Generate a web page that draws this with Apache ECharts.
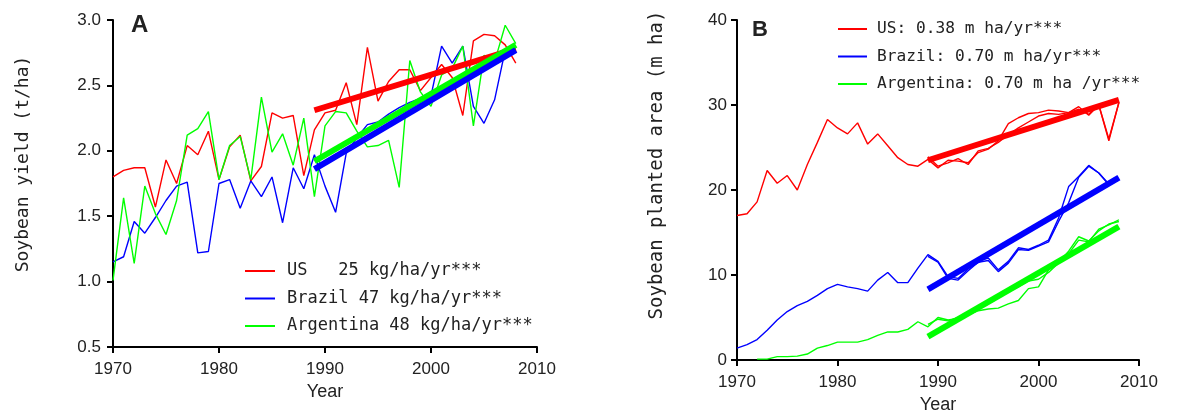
<!DOCTYPE html>
<html>
<head>
<meta charset="utf-8">
<script src="https://cdn.jsdelivr.net/npm/echarts@6/dist/echarts.min.js"></script>
<style>
  html, body { margin: 0; padding: 0; background: #fff; }
  #chart { width: 1189px; height: 414px; }
</style>
</head>
<body>
<div id="chart"></div>
<script>
// years 1970..2008
const years = []
for (let y = 1970; y <= 2008; y++) years.push(y)

// panel A: yield (t/ha)
const usYield = [1.80, 1.85, 1.87, 1.87, 1.57, 1.93, 1.75, 2.04, 1.97, 2.15,
  1.78, 2.03, 2.12, 1.77, 1.88, 2.29, 2.25, 2.27, 1.81, 2.16,
  2.29, 2.31, 2.52, 2.20, 2.79, 2.38, 2.53, 2.62, 2.62, 2.46,
  2.56, 2.66, 2.56, 2.27, 2.84, 2.89, 2.88, 2.81, 2.67]
const brazilYield = [1.15, 1.19, 1.46, 1.37, 1.49, 1.62, 1.73, 1.76, 1.22, 1.23,
  1.75, 1.78, 1.56, 1.77, 1.65, 1.80, 1.45, 1.87, 1.71, 1.97,
  1.73, 1.53, 1.98, 2.10, 2.20, 2.22, 2.28, 2.33, 2.37, 2.40,
  2.42, 2.80, 2.67, 2.80, 2.34, 2.21, 2.39, 2.77, 2.78]
const argYield = [1.01, 1.64, 1.14, 1.73, 1.52, 1.36, 1.62, 2.12, 2.17, 2.30,
  1.78, 2.04, 2.11, 1.78, 2.41, 1.99, 2.13, 1.89, 2.25, 1.65,
  2.19, 2.30, 2.29, 2.15, 2.03, 2.04, 2.08, 1.72, 2.69, 2.45,
  2.34, 2.58, 2.63, 2.80, 2.19, 2.73, 2.68, 2.96, 2.82]

// panel A: fitted trends 1989-2008 (endpoints)
const trendYears = [1989, 2008]
const usYieldTrend = [2.31, 2.78]
const brazilYieldTrend = [1.86, 2.77]
const argYieldTrend = [1.92, 2.81]

// panel B: planted area (m ha)
const usArea = [17.0, 17.2, 18.6, 22.3, 20.8, 21.7, 20.0, 23.0, 25.6, 28.3,
  27.3, 26.6, 27.9, 25.4, 26.6, 25.2, 23.8, 23.0, 22.8, 23.6,
  22.6, 23.5, 23.4, 23.2, 24.4, 24.8, 25.8, 27.8, 28.5, 29.0,
  29.1, 29.4, 29.3, 29.1, 29.8, 28.8, 30.0, 25.8, 30.3]
const brazilArea = [1.4, 1.8, 2.4, 3.5, 4.7, 5.7, 6.4, 6.9, 7.6, 8.4,
  8.9, 8.6, 8.4, 8.1, 9.4, 10.3, 9.1, 9.1, 10.8, 12.4,
  11.6, 9.8, 9.6, 10.7, 11.6, 12.0, 10.6, 11.6, 13.2, 13.0,
  13.5, 14.1, 16.7, 20.4, 21.6, 22.9, 22.0, 20.7, 21.3]
const argArea = [null, null, 0.1, 0.1, 0.4, 0.4, 0.45, 0.7, 1.4, 1.7,
  2.1, 2.1, 2.1, 2.4, 2.9, 3.3, 3.3, 3.6, 4.5, 3.9,
  5.0, 4.7, 4.9, 5.3, 5.8, 6.0, 6.1, 6.6, 7.0, 8.4,
  8.6, 10.6, 11.5, 12.8, 14.5, 14.0, 15.2, 16.0, 16.3]

// second (overlaid) area record 1989-2008
const years2 = years.slice(19)
const usArea2 = [23.9, 22.8, 23.2, 23.7, 23.0, 24.6, 24.9, 25.6, 26.5, 27.3,
  28.0, 28.7, 29.0, 28.9, 29.1, 29.5, 28.9, 30.0, 26.0, 30.3]
const brazilArea2 = [12.2, 11.5, 9.6, 9.4, 10.5, 11.5, 11.7, 10.4, 11.4, 13.0,
  12.9, 13.4, 13.9, 16.3, 18.5, 21.5, 22.8, 22.0, 20.6, 21.2]
const argArea2 = [4.2, 4.8, 4.6, 5.0, 5.6, 6.0, 6.6, 7.3, 8.0, 8.6,
  9.3, 9.5, 10.3, 11.4, 12.5, 14.1, 13.9, 15.4, 15.9, 16.5]

const usAreaTrend = [23.5, 30.6]
const brazilAreaTrend = [8.3, 21.45]
const argAreaTrend = [2.75, 15.7]

const legendA = ['US   25 kg/ha/yr***', 'Brazil 47 kg/ha/yr***', 'Argentina 48 kg/ha/yr***']
const legendB = ['US: 0.38 m ha/yr***', 'Brazil: 0.70 m ha/yr***', 'Argentina: 0.70 m ha /yr***']

const RED = '#ff0000', BLUE = '#0000ff', GREEN = '#00ff00'
const tickFont = 'Liberation Sans, Arial, sans-serif'
const monoFont = 'DejaVu Sans Mono, monospace'

function pairs(xs, ys) { return xs.map((x, i) => [x, ys[i]]) }

function thin(name, color, xs, ys, idx) {
  return {
    name, type: 'line', xAxisIndex: idx, yAxisIndex: idx,
    data: pairs(xs, ys), symbol: 'none', silent: true,
    lineStyle: { color, width: 1.4 }, itemStyle: { color }, z: 2
  }
}
function thick(color, ys, idx) {
  return {
    type: 'line', xAxisIndex: idx, yAxisIndex: idx,
    data: pairs(trendYears, ys), symbol: 'none', silent: true,
    lineStyle: { color, width: 6 }, z: 3
  }
}

function xAxis(idx) {
  return {
    type: 'value', gridIndex: idx, min: 1970, max: 2010, interval: 10,
    axisLine: { lineStyle: { color: '#000', width: 2 } },
    axisTick: { length: 6, lineStyle: { color: '#000', width: 2 } },
    splitLine: { show: false },
    axisLabel: { color: '#222', fontFamily: tickFont, fontSize: 17, margin: 14, formatter: v => String(v) },
    name: 'Year', nameLocation: 'middle', nameGap: 36,
    nameTextStyle: { color: '#222', fontFamily: tickFont, fontSize: 18 }
  }
}

const chart = echarts.init(document.getElementById('chart'))

const option = {
  animation: false,
  backgroundColor: '#fff',
  grid: [
    { left: 113, top: 20, width: 424, height: 327, outerBoundsMode: 'none' },
    { left: 737, top: 20, width: 402, height: 340, outerBoundsMode: 'none' }
  ],
  xAxis: [xAxis(0), xAxis(1)],
  yAxis: [
    {
      type: 'value', gridIndex: 0, min: 0.5, max: 3.0, interval: 0.5,
      axisLine: { show: true, lineStyle: { color: '#000', width: 2 } },
      axisTick: { show: true, length: 6, lineStyle: { color: '#000', width: 2 } },
      splitLine: { show: false },
      axisLabel: { color: '#222', fontFamily: tickFont, fontSize: 17, margin: 12, formatter: v => v.toFixed(1) }
    },
    {
      type: 'value', gridIndex: 1, min: 0, max: 40, interval: 10,
      axisLine: { show: true, lineStyle: { color: '#000', width: 2 } },
      axisTick: { show: true, length: 6, lineStyle: { color: '#000', width: 2 } },
      splitLine: { show: false },
      axisLabel: { color: '#222', fontFamily: tickFont, fontSize: 17, margin: 10 }
    }
  ],
  legend: [
    {
      data: legendA, orient: 'vertical', left: 240, top: 257, itemGap: 9.5,
      itemWidth: 30, itemHeight: 2, icon: 'rect', selectedMode: false,
      textStyle: { color: '#222', fontFamily: monoFont, fontSize: 17, lineHeight: 18, padding: [0, 0, 0, 7] }
    },
    {
      data: legendB, orient: 'vertical', left: 833, top: 15, itemGap: 9.5,
      itemWidth: 29, itemHeight: 2, icon: 'rect', selectedMode: false,
      textStyle: { color: '#222', fontFamily: monoFont, fontSize: 16.2, lineHeight: 18, padding: [0, 0, 0, 5] }
    }
  ],
  graphic: [
    { type: 'text', x: 131, y: 13, style: { text: 'A', font: 'bold 24px Liberation Sans, Arial, sans-serif', fill: '#222' } },
    { type: 'text', x: 752, y: 19, style: { text: 'B', font: 'bold 22px Liberation Sans, Arial, sans-serif', fill: '#222' } },
    { type: 'text', x: 23, y: 164, rotation: Math.PI / 2,
      style: { text: 'Soybean yield (t/ha)', font: '18px DejaVu Sans Mono, monospace', fill: '#222', align: 'center', verticalAlign: 'middle' } },
    { type: 'text', x: 657, y: 165, rotation: Math.PI / 2,
      style: { text: 'Soybean planted area (m ha)', font: '19px DejaVu Sans Mono, monospace', fill: '#222', align: 'center', verticalAlign: 'middle' } }
  ],
  series: [
    thin(legendA[0], RED, years, usYield, 0),
    thin(legendA[1], BLUE, years, brazilYield, 0),
    thin(legendA[2], GREEN, years, argYield, 0),
    thick(RED, usYieldTrend, 0),
    thick(GREEN, argYieldTrend, 0),
    thick(BLUE, brazilYieldTrend, 0),

    thin(legendB[0], RED, years, usArea, 1),
    thin(legendB[1], BLUE, years, brazilArea, 1),
    thin(legendB[2], GREEN, years, argArea, 1),
    thin('us2', RED, years2, usArea2, 1),
    thin('brazil2', BLUE, years2, brazilArea2, 1),
    thin('arg2', GREEN, years2, argArea2, 1),
    thick(RED, usAreaTrend, 1),
    thick(BLUE, brazilAreaTrend, 1),
    thick(GREEN, argAreaTrend, 1)
  ]
}

chart.setOption(option)
</script>
</body>
</html>
